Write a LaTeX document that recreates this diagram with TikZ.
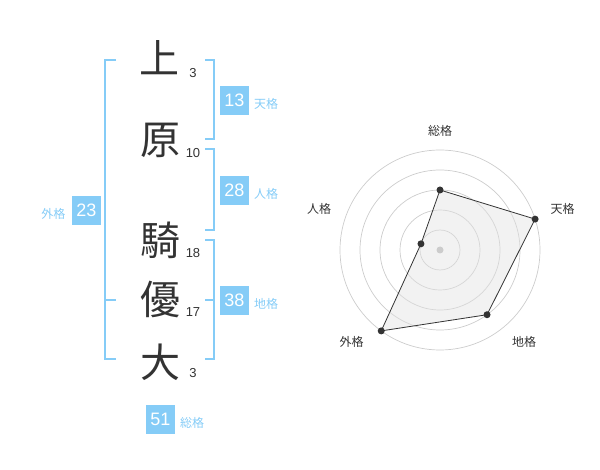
\documentclass[tikz,border=0pt]{standalone}
\usepackage{fontspec}
\usetikzlibrary{calc}
\setmainfont{Liberation Sans}
\newfontfamily\cjk{Noto Sans CJK JP}
\definecolor{kblue}{HTML}{85CCF7}
\definecolor{ink}{HTML}{333333}
\definecolor{ring}{HTML}{CCCCCC}
\definecolor{area}{HTML}{E2E2E2}
\begin{document}
\begin{tikzpicture}[x=1pt,y=1pt,
  kanji/.style={inner sep=0pt,anchor=center,text=ink,font=\cjk\fontsize{40}{40}\selectfont},
  stroke/.style={inner sep=0pt,anchor=base,text=ink,font=\fontsize{13}{13}\selectfont},
  score/.style={fill=kblue,text=white,minimum width=29pt,minimum height=29pt,inner sep=0pt,font=\fontsize{18}{18}\selectfont},
  kaku/.style={inner sep=0pt,text=kblue,font=\cjk\fontsize{12}{12}\selectfont},
  bracket/.style={draw=kblue,line width=2pt},
  axislabel/.style={inner sep=0pt,text=ink,font=\cjk\fontsize{12}{12}\selectfont},
  dot/.style={circle,fill=ink,inner sep=0pt,minimum size=7pt}]
\useasboundingbox (0,0) rectangle (600,-470);
% kanji
\node[kanji] (k1) at (159.5,-58) {上};
\node[kanji] (k2) at (160,-140.5) {原};
\node[kanji] (k3) at (160,-240) {騎};
\node[kanji] (k4) at (160,-299) {優};
\node[kanji] (k5) at (160,-362.5) {大};
% stroke counts
\node[stroke] (n1) at (193,-77.5) {3};
\node[stroke] (n2) at (193,-157.5) {10};
\node[stroke] (n3) at (193,-257.5) {18};
\node[stroke] (n4) at (193,-317) {17};
\node[stroke] (n5) at (193,-377.5) {3};
% brackets
\draw[bracket] (116,-60) -- (105,-60) -- (105,-359.3) -- (116,-359.3);
\draw[bracket] (105,-300) -- (116,-300);
\draw[bracket] (205,-60) -- (214,-60) -- (214,-139.3) -- (205,-139.3);
\draw[bracket] (205,-149.3) -- (214,-149.3) -- (214,-230) -- (205,-230);
\draw[bracket] (205,-240) -- (214,-240) -- (214,-359.3) -- (205,-359.3);
\draw[bracket] (205,-300) -- (214,-300);
% scores
\node[score] (s1) at (234.5,-100.5) {13};
\node[kaku,anchor=west] (l1) at (254,-104) {天格};
\node[score] (s2) at (234.5,-190.5) {28};
\node[kaku,anchor=west] (l2) at (254,-194) {人格};
\node[score] (s3) at (86.5,-210.5) {23};
\node[kaku,anchor=center] (l3) at (53.3,-214) {外格};
\node[score] (s4) at (234.5,-300.5) {38};
\node[kaku,anchor=west] (l4) at (254,-304) {地格};
\node[score] (s5) at (160.5,-419) {51};
\node[kaku,anchor=west] (l5) at (180,-423) {総格};
% radar
\foreach \r in {20,40,60,80,100} \draw[ring,line width=0.7pt] (440,-250) circle (\r);
\coordinate (pS) at ($(440,-250)+(90:60)$);
\coordinate (pT) at ($(440,-250)+(18:100)$);
\coordinate (pC) at ($(440,-250)+(-54:80)$);
\coordinate (pG) at ($(440,-250)+(-126:100)$);
\coordinate (pJ) at ($(440,-250)+(162:20)$);
\fill[area,fill opacity=0.45] (pS) -- (pT) -- (pC) -- (pG) -- (pJ) -- cycle;
\fill[ring] (440,-250) circle (3.5);
\draw[ink,line width=0.8pt] (pS) -- (pT) -- (pC) -- (pG) -- (pJ) -- cycle;
\node[dot] (dS) at (pS) {};
\node[dot] (dT) at (pT) {};
\node[dot] (dC) at (pC) {};
\node[dot] (dG) at (pG) {};
\node[dot] (dJ) at (pJ) {};
\node[axislabel] (aS) at (440,-130.7) {総格};
\node[axislabel] (aT) at (562.7,-209) {天格};
\node[axislabel] (aJ) at (319,-209) {人格};
\node[axislabel] (aG) at (351.7,-341.7) {外格};
\node[axislabel] (aC) at (524,-341.7) {地格};
\end{tikzpicture}
\end{document}
